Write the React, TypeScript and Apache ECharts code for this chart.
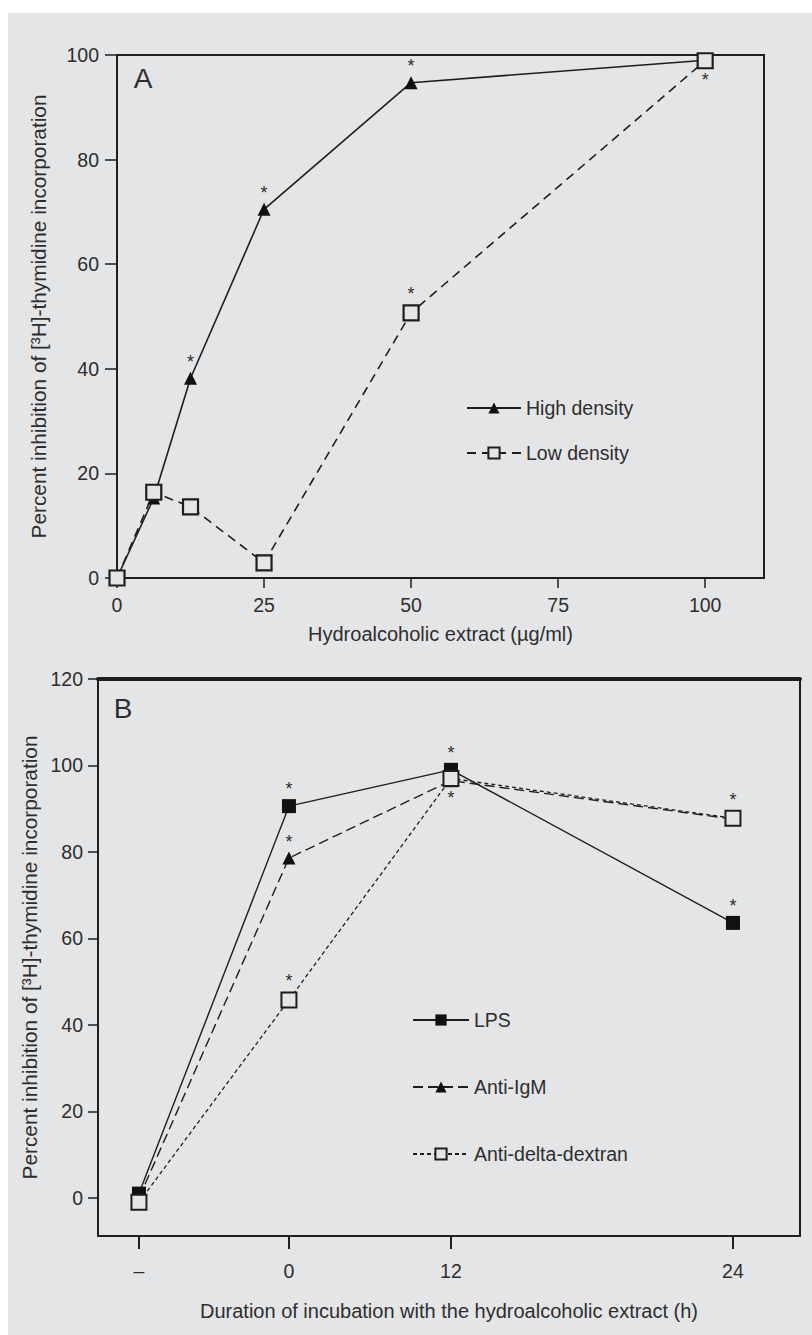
import React, { useEffect, useRef } from "react";
import * as echarts from "echarts";

// Panel A
const concentrations = [0, 6.25, 12.5, 25, 50, 100];
const concentrationTicks = [0, 25, 50, 75, 100];
const highDensity = [0, 15.3, 38.2, 70.5, 94.7, 99];
const lowDensity = [0, 16.4, 13.6, 2.9, 50.7, 98.9];
const highDensityStars = ["", "", "top", "top", "top", ""];
const lowDensityStars = ["", "", "", "", "top", "bottom"];
const percentTicksA = [0, 20, 40, 60, 80, 100];

// Panel B
const durationLabels = ["–", "0", "12", "24"];
const durationSlots = [0, 1, 2.08, 3.96];
const lps = [1, 90.6, 99, 63.6];
const antiIgM = [0, 78.6, 96.5, 87.6];
const antiDeltaDextran = [-1, 45.8, 97, 87.8];
const lpsStars = ["", "top", "top", "top"];
const antiIgMStars = ["", "top", "bottom", ""];
const antiDeltaStars = ["", "top", "", "top"];
const percentTicksB = [0, 20, 40, 60, 80, 100, 120];

const BG = "#e4e5e7";
const INK = "#1e1e1e";
const TXT = "#2e2e2e";
const FONT = "'Liberation Sans', Arial, Helvetica, sans-serif";

function star(pos: string) {
  if (!pos) return { show: false };
  return {
    show: true,
    position: pos,
    distance: pos === "top" ? 1 : 2,
    formatter: "*",
    fontSize: 18,
    fontFamily: FONT,
    color: TXT,
  };
}

function pts(xs: number[], ys: number[], stars: string[]) {
  return xs.map((x, i) => ({ value: [x, ys[i]], label: star(stars[i]) }));
}

export default function App() {
  const ref = useRef<HTMLDivElement>(null);
  useEffect(() => {
    const chart = echarts.init(ref.current!, null, { renderer: "svg" });
    const axisText = { fontSize: 19.5, fontFamily: FONT, color: TXT };
    const nameText = { fontSize: 20, fontFamily: FONT, color: TXT };
    const yNameText = { fontSize: 20.8, fontFamily: FONT, color: TXT };
    const yName = "Percent inhibition of [³H]-thymidine incorporation";
    const option: any = {
      animation: false,
      backgroundColor: "#ffffff",
      textStyle: { fontFamily: FONT },
      graphic: [
        {
          type: "rect",
          z: -100,
          zlevel: 0,
          silent: true,
          shape: { x: 8, y: 13, width: 804, height: 1322 },
          style: { fill: BG },
        },
        {
          type: "text",
          x: 143,
          y: 78,
          style: { text: "A", fontSize: 28, fontFamily: FONT, fill: TXT, textAlign: "center", textVerticalAlign: "middle" },
        },
        {
          type: "text",
          x: 123,
          y: 708,
          style: { text: "B", fontSize: 28, fontFamily: FONT, fill: TXT, textAlign: "center", textVerticalAlign: "middle" },
        },
      ],
      grid: [
        { left: 117, top: 55, width: 647, height: 523, show: true, borderColor: INK, borderWidth: 2, backgroundColor: "transparent" },
        { left: 98, top: 679, width: 702, height: 557, show: true, borderColor: INK, borderWidth: 2, backgroundColor: "transparent" },
      ],
      xAxis: [
        {
          type: "value",
          gridIndex: 0,
          min: 0,
          max: 110,
          splitLine: { show: false },
          axisLine: { onZero: false, lineStyle: { color: INK, width: 2 } },
          axisTick: { show: true, length: 10, customValues: concentrationTicks, lineStyle: { color: INK, width: 1.5 } },
          axisLabel: { ...axisText, margin: 17, customValues: concentrationTicks },
          name: "Hydroalcoholic extract (µg/ml)",
          nameLocation: "middle",
          nameGap: 46,
          nameTextStyle: nameText,
        },
        {
          type: "value",
          gridIndex: 1,
          min: -0.273,
          max: 4.407,
          splitLine: { show: false },
          axisLine: { onZero: false, lineStyle: { color: INK, width: 2 } },
          axisTick: { show: true, length: 13, customValues: durationSlots, lineStyle: { color: INK, width: 2 } },
          axisLabel: {
            ...axisText,
            margin: 25,
            customValues: durationSlots,
            formatter: (v: number) => {
              const i = durationSlots.findIndex((p) => Math.abs(p - v) < 1e-6);
              return i >= 0 ? durationLabels[i] : "";
            },
          },
          name: "Duration of incubation with the hydroalcoholic extract (h)",
          nameLocation: "middle",
          nameGap: 65,
          nameTextStyle: nameText,
        },
        {
          type: "value",
          gridIndex: 1,
          position: "top",
          min: -0.273,
          max: 4.407,
          splitLine: { show: false },
          axisLine: { show: true, onZero: false, lineStyle: { color: INK, width: 4 } },
          axisTick: { show: false },
          axisLabel: { show: false },
        },
      ],
      yAxis: [
        {
          type: "value",
          gridIndex: 0,
          min: 0,
          max: 100,
          splitLine: { show: false },
          axisLine: { show: true, onZero: false, lineStyle: { color: INK, width: 2 } },
          axisTick: { show: true, length: 12, customValues: percentTicksA, lineStyle: { color: INK, width: 1.5 } },
          axisLabel: { ...axisText, margin: 18, customValues: percentTicksA },
          name: yName,
          nameLocation: "middle",
          nameRotate: 90,
          nameGap: 68,
          nameTextStyle: yNameText,
        },
        {
          type: "value",
          gridIndex: 1,
          min: -8.8,
          max: 120,
          splitLine: { show: false },
          axisLine: { show: true, onZero: false, lineStyle: { color: INK, width: 2 } },
          axisTick: { show: true, length: 10, customValues: percentTicksB, lineStyle: { color: INK, width: 1.5 } },
          axisLabel: { ...axisText, margin: 15, customValues: percentTicksB },
          name: yName,
          nameLocation: "middle",
          nameRotate: 90,
          nameGap: 49,
          nameTextStyle: yNameText,
        },
      ],
      legend: [
        {
          data: ["High density", "Low density"],
          orient: "vertical",
          left: 466,
          top: 398,
          padding: 0,
          itemWidth: 54,
          itemHeight: 14,
          itemGap: 25,
          textStyle: { fontSize: 19.5, fontFamily: FONT, color: TXT },
        },
        {
          data: ["LPS", "Anti-IgM", "Anti-delta-dextran"],
          orient: "vertical",
          left: 412,
          top: 1010,
          padding: 0,
          itemWidth: 56,
          itemHeight: 14,
          itemGap: 47,
          textStyle: { fontSize: 19.5, fontFamily: FONT, color: TXT },
        },
      ],
      series: [
        {
          type: "line",
          name: "High density",
          xAxisIndex: 0,
          yAxisIndex: 0,
          clip: false,
          data: pts(concentrations, highDensity, highDensityStars),
          symbol: "triangle",
          symbolSize: 13,
          lineStyle: { color: INK, width: 1.6, type: "solid" },
          itemStyle: { color: "#111111", borderWidth: 0 },
        },
        {
          type: "line",
          name: "Low density",
          xAxisIndex: 0,
          yAxisIndex: 0,
          clip: false,
          data: pts(concentrations, lowDensity, lowDensityStars),
          symbol: "rect",
          symbolSize: 15,
          lineStyle: { color: INK, width: 1.6, type: [9, 6] },
          itemStyle: { color: BG, borderColor: INK, borderWidth: 2.2 },
        },
        {
          type: "line",
          name: "LPS",
          xAxisIndex: 1,
          yAxisIndex: 1,
          clip: false,
          data: pts(durationSlots, lps, lpsStars),
          symbol: "rect",
          symbolSize: 14,
          lineStyle: { color: INK, width: 1.4, type: "solid" },
          itemStyle: { color: "#111111", borderWidth: 0 },
        },
        {
          type: "line",
          name: "Anti-IgM",
          xAxisIndex: 1,
          yAxisIndex: 1,
          clip: false,
          data: pts(durationSlots, antiIgM, antiIgMStars),
          symbol: "triangle",
          symbolSize: 13,
          lineStyle: { color: INK, width: 1.4, type: [10, 5] },
          itemStyle: { color: "#111111", borderWidth: 0 },
        },
        {
          type: "line",
          name: "Anti-delta-dextran",
          xAxisIndex: 1,
          yAxisIndex: 1,
          clip: false,
          data: pts(durationSlots, antiDeltaDextran, antiDeltaStars),
          symbol: "rect",
          symbolSize: 15,
          lineStyle: { color: INK, width: 1.3, type: [4, 3] },
          itemStyle: { color: BG, borderColor: INK, borderWidth: 2 },
        },
      ],
    };
    chart.setOption(option);
    return () => chart.dispose();
  }, []);
  return (
    <div
      ref={ref}
      style={{ position: "absolute", left: 0, top: 0, width: 812, height: 1335 }}
    />
  );
}
